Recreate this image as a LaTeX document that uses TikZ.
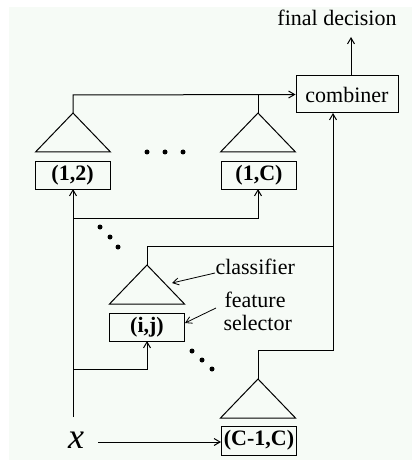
\documentclass[tikz,border=0pt]{standalone}
\usepackage{fontspec}
\setmainfont{Liberation Serif}
\usetikzlibrary{arrows.meta}
\definecolor{bgc}{RGB}{246,251,246}
\begin{document}
\begin{tikzpicture}[x=1pt,y=-1pt,
  line width=1pt,
  txt/.style={font=\fontsize{22}{23}\selectfont, inner sep=0pt},
  box/.style={draw, minimum width=75pt, minimum height=28pt, inner sep=0pt, font=\fontsize{22}{23}\selectfont\bfseries},
  arr/.style={-{Straight Barb[length=6pt,width=7pt]}},
  dot/.style={fill, circle, inner sep=0pt, minimum size=5pt}
]
\useasboundingbox (0,0) rectangle (412,462);
\fill[bgc] (9,7) rectangle (412,460);

% combiner and output
\node[draw, minimum width=102pt, minimum height=37pt, inner sep=0pt, font=\fontsize{22}{23}\selectfont] (comb) at (347,94.5) {combiner};
\node[txt, anchor=base] (fd) at (337,26) {final decision};
\draw[arr] ([xshift=4pt]comb.north) -- ([xshift=4pt]comb.north |- 0,37);

% boxes
\node[box, minimum height=27pt] (b12) at (72.5,175.5) {(1,2)};
\node[box, minimum height=27pt] (b1C) at (259,175.5) {(1,C)};
\node[box] (bij) at (147,327) {(i,j)};
\node[box, minimum height=29pt] (bC) at (259,440.5) {(C-1,C)};

% triangles (apex coordinates)
\coordinate (t1) at (73,113);
\coordinate (t2) at (258,113);
\coordinate (tij) at (147,265);
\coordinate (tC) at (258,379);
\foreach \t in {t1,t2,tij,tC}
  \draw (\t) -- ++(-37.5,39) -- ++(75,0) -- cycle;

% outputs to combiner
\coordinate (h1) at (73,95);
\draw[arr] (t1) -- (h1) -- (comb.west);
\draw (t2) -- (t2 |- h1);
\coordinate (cin) at (333,113);
\coordinate (r1) at (333,246);
\draw (tij) -- (tij |- r1) -- (r1);
\draw[arr] (tC) -- (258,350) -- (333,350) -- (cin);

% input distribution
\coordinate (xin) at (73,417);
\draw[arr] (xin) -- (73,189);
\draw[arr] (73,218) -- (258,218) -- (258,189);
\draw[arr] (73,369) -- (147,369) -- (147,341);
\node[inner sep=0pt, font=\fontsize{36}{36}\selectfont\itshape] (xl) at (76,440) {x};
\coordinate (xs) at (98,442);
\draw[arr] (xs) -- (bC.west |- xs);

% dots
\node[dot] (d1) at (147,152) {};
\node[dot] (d2) at (165,152) {};
\node[dot] (d3) at (183,152) {};
\node[dot] (d4) at (100,227) {};
\node[dot] (d5) at (110,237) {};
\node[dot] (d6) at (118,247) {};
\node[dot] (d7) at (192,351) {};
\node[dot] (d8) at (202,360) {};
\node[dot] (d9) at (212,369) {};

% labels
\node[txt, anchor=base west] (cl) at (215,274) {classifier};
\node[txt, anchor=base west, align=left] (fs) at (224,307) {feature};
\node[txt, anchor=base west] (fs2) at (223,330) {selector};
\draw[arr, line width=0.8pt] (215,273) -- (172,283);
\draw[arr, line width=0.8pt] (216,308) -- (185,323);
\end{tikzpicture}
\end{document}
